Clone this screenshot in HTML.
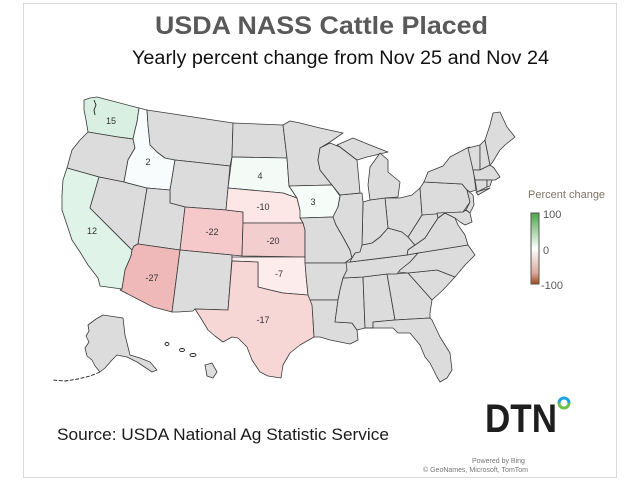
<!DOCTYPE html>
<html><head><meta charset="utf-8"><style>
html,body{margin:0;padding:0;background:#fff;}
svg{display:block;}
</style></head><body>
<svg width="640" height="480" viewBox="0 0 640 480" xmlns="http://www.w3.org/2000/svg" font-family="'Liberation Sans', sans-serif">
<defs>
<linearGradient id="lg" x1="0" y1="0" x2="0" y2="1">
<stop offset="0" stop-color="#4aa548"/>
<stop offset="0.5" stop-color="#ffffff"/>
<stop offset="0.85" stop-color="#d9a89a"/>
<stop offset="1" stop-color="#9b4a17"/>
</linearGradient>
</defs>
<rect x="0" y="0" width="640" height="480" fill="#fff"/>
<rect x="23.5" y="3.5" width="593" height="474" fill="none" stroke="#d9d9d9" stroke-width="1"/>

<text x="155" y="34" font-size="25" font-weight="bold" fill="#595959" textLength="333" lengthAdjust="spacingAndGlyphs">USDA NASS Cattle Placed</text>
<text x="132" y="64" font-size="19" fill="#111" textLength="417" lengthAdjust="spacingAndGlyphs">Yearly percent change from Nov 25 and Nov 24</text>

<g stroke="#3a3a3a" stroke-width="0.8" stroke-linejoin="round" fill="#dcdcdc">
<!-- WA -->
<polygon fill="#d9efe1" points="84,100 90,98 97,97 139,108 137,122 135,130 133,139 118,137 100,134 88,132 86,120 84,110"/>
<!-- OR -->
<polygon points="88,132 100,134 118,137 133,139 135,148 128,160 124,182 99,177 67,168 72,150 80,140"/>
<!-- CA -->
<polygon fill="#e0f3e8" points="67,168 99,177 90,208 132,250 131,256 125,270 122,289 100,286 98,278 88,265 80,252 72,240 67,225 62,210 62,195 63,180"/>
<!-- NV -->
<polygon points="99,177 124,182 147,188 138,244 134,246 132,250 90,208"/>
<!-- ID -->
<polygon fill="#f8fcfd" points="139,108 147,110 148,125 150,145 157,152 165,158 175,160 170,190 147,188 124,182 128,160 135,148 133,139 135,130 137,122"/>
<!-- MT -->
<polygon points="147,110 233,123 232,157 230,166 175,160 165,158 157,152 150,145 148,125"/>
<!-- WY -->
<polygon points="175,160 230,166 226,210 185,207 170,203 170,190"/>
<!-- UT -->
<polygon points="147,188 170,190 170,203 185,207 180,250 138,244"/>
<!-- AZ -->
<polygon fill="#efb9b9" points="138,244 180,250 172,312 153,307 120,290 122,289 125,270 131,256 132,250 134,246"/>
<!-- CO -->
<polygon fill="#f5c9c9" points="185,207 226,210 243,212 243,223 242,256 180,250"/>
<!-- NM -->
<polygon points="180,250 232,255 232,258 228,310 195,309 193,311 178,312 172,312"/>
<!-- ND -->
<polygon points="233,123 283,125 287,158 232,157"/>
<!-- SD -->
<polygon fill="#f4fbf6" points="232,157 287,158 289,186 297,198 283,193 228,188"/>
<!-- NE -->
<polygon fill="#fde6e6" points="228,188 283,193 297,198 300,210 303,223 243,223 243,212 226,210"/>
<!-- KS -->
<polygon fill="#f3cece" points="243,223 303,223 305,230 305,257 242,256"/>
<!-- OK -->
<polygon fill="#fcecec" points="232,257 305,257 306,275 308,295 295,294 283,293 270,290 258,287 258,262 232,261"/>
<!-- TX -->
<polygon fill="#f7d6d6" points="232,261 258,262 258,287 270,290 283,293 295,294 308,295 312,300 313,320 314,337 300,345 290,353 283,365 281,378 268,376 260,372 252,360 247,347 238,338 232,337 223,342 215,336 208,330 202,320 195,309 228,310"/>
<!-- MN -->
<polygon points="283,125 290,121 300,123 320,128 343,133 330,142 320,148 318,160 320,170 332,185 289,186 287,158"/>
<!-- IA -->
<polygon fill="#f6fcf8" points="289,186 332,185 340,196 338,207 333,217 300,218 300,210 297,198"/>
<!-- MO -->
<polygon points="300,218 333,217 336,225 343,237 350,250 352,258 346,262 345,263 305,263 305,230 303,223"/>
<!-- AR -->
<polygon points="305,263 345,263 350,262 347,270 343,278 340,290 338,300 310,300 308,295 306,275"/>
<!-- LA -->
<polygon points="310,300 338,300 335,322 352,323 357,330 358,340 350,344 340,342 330,340 320,337 314,337 313,320 312,305"/>
<!-- MS -->
<polygon points="343,278 363,277 365,328 357,330 352,323 335,322 338,300 340,290"/>
<!-- AL -->
<polygon points="363,277 387,274 395,320 373,322 373,328 365,328"/>
<!-- GA -->
<polygon points="387,274 408,273 432,300 430,313 430,318 395,320"/>
<!-- FL -->
<polygon points="365,328 373,328 373,322 395,320 430,318 432,320 440,337 450,353 452,370 447,378 440,382 437,377 430,363 425,357 420,345 410,333 398,333 393,328"/>
<!-- SC -->
<polygon points="408,273 437,270 455,277 443,290 432,300"/>
<!-- NC -->
<polygon points="398,272 408,273 437,270 455,277 465,265 475,255 468,245 418,253 410,262 400,270"/>
<!-- TN -->
<polygon points="346,262 350,262 407,255 418,253 410,262 400,270 397,274 387,274 363,277 343,278 347,270"/>
<!-- KY -->
<polygon points="352,258 355,253 362,245 372,243 380,237 388,228 402,232 408,237 415,245 408,250 407,255 350,262"/>
<!-- VA -->
<polygon points="407,255 408,250 415,245 425,238 432,227 438,218 445,213 455,218 458,225 465,235 468,245 418,253"/>
<!-- WV -->
<polygon points="408,237 422,215 437,213 438,218 432,227 425,238 415,245"/>
<!-- OH -->
<polygon points="385,198 400,198 412,195 420,188 422,215 408,237 402,232 388,228"/>
<!-- IN -->
<polygon points="363,202 370,200 385,198 388,228 380,237 372,243 362,245"/>
<!-- IL -->
<polygon points="340,195 362,193 363,202 362,245 360,252 355,253 352,258 350,250 343,237 336,225 333,217 338,207 340,196"/>
<!-- WI -->
<polygon points="320,148 330,143 340,147 357,160 358,170 360,193 340,195 332,185 320,170 318,160"/>
<!-- MI UP -->
<polygon points="337,145 353,138 370,145 388,152 380,154 367,157 357,160 340,147"/>
<!-- MI LP -->
<polygon points="370,200 368,185 370,167 380,153 388,160 388,172 400,182 398,197 385,198"/>
<!-- PA -->
<polygon points="420,188 424,182 462,184 467,190 470,202 463,212 422,215"/>
<!-- NY -->
<polygon points="424,182 428,172 443,166 450,157 467,148 470,147 473,168 476,190 470,192 467,190 462,184"/>
<polygon points="476,192 490,188 478,195"/>
<!-- NJ -->
<polygon points="467,190 473,195 474,205 470,213 466,210 470,202"/>
<!-- MD/DE -->
<polygon points="437,213 463,212 466,210 470,213 472,222 465,225 460,222 455,218 445,213 438,218"/>
<!-- VT -->
<polygon points="468,148 480,145 480,170 473,170"/>
<!-- NH -->
<polygon points="480,145 485,140 490,165 480,170"/>
<!-- ME -->
<polygon points="485,140 490,125 493,113 500,112 507,127 515,137 505,145 500,150 492,163 490,165"/>
<!-- MA -->
<polygon points="473,170 480,170 490,165 494,168 500,177 495,180 475,180"/>
<!-- CT -->
<polygon points="475,180 487,180 487,187 477,192"/>
<!-- RI -->
<polygon points="487,180 492,180 490,186 487,187"/>
<!-- AK -->
<polygon points="88,325 96,319 103,315 123,318 125,335 130,355 140,358 150,362 157,370 152,372 137,362 127,357 117,355 112,360 105,368 100,372 95,366 92,360 87,356 85,348 89,342 86,336 89,331"/>
<!-- HI -->
<polygon points="205,365 212,363 217,372 213,378 207,376"/>
</g>
<g fill="none" stroke="#222" stroke-width="0.9">
<polyline points="100,372 90,376 78,379 65,381 52,380" stroke-dasharray="4,1.5"/>
<path d="M94,100 l2,5 -2,5 1,5"/>
<ellipse cx="167" cy="344" rx="2" ry="1.5"/>
<ellipse cx="182" cy="350" rx="2.5" ry="1.5"/>
<ellipse cx="193" cy="355" rx="3" ry="1.5"/>
</g>

<g font-size="9" fill="#333" text-anchor="middle">
<text x="111" y="124">15</text>
<text x="148" y="165">2</text>
<text x="260" y="179">4</text>
<text x="313" y="205">3</text>
<text x="263" y="210">-10</text>
<text x="212" y="235">-22</text>
<text x="273" y="244">-20</text>
<text x="92" y="234">12</text>
<text x="152" y="281">-27</text>
<text x="279" y="277">-7</text>
<text x="263" y="323">-17</text>
</g>

<text x="528" y="198" font-size="11" fill="#7f7568">Percent change</text>
<rect x="531" y="213" width="8" height="71" fill="url(#lg)" stroke="#555" stroke-width="1"/>
<text x="543" y="218" font-size="11" fill="#595959">100</text>
<text x="543" y="254" font-size="11" fill="#595959">0</text>
<text x="541" y="289" font-size="11" fill="#595959">-100</text>

<text x="57" y="440" font-size="17" fill="#1a1a1a" textLength="332" lengthAdjust="spacingAndGlyphs">Source: USDA National Ag Statistic Service</text>

<text x="485" y="432" font-size="40" font-weight="bold" fill="#1e1e1e" textLength="72" lengthAdjust="spacingAndGlyphs">DTN</text>
<path d="M559,403 A5,5 0 0 1 569,403" fill="none" stroke="#1aa3e0" stroke-width="3"/>
<path d="M569,403 A5,5 0 0 1 559,403" fill="none" stroke="#6cc04a" stroke-width="3"/>

<text x="472" y="463" font-size="7" fill="#777">Powered by Bing</text>
<text x="423" y="472" font-size="7" fill="#777">© GeoNames, Microsoft, TomTom</text>
</svg>
</body></html>
